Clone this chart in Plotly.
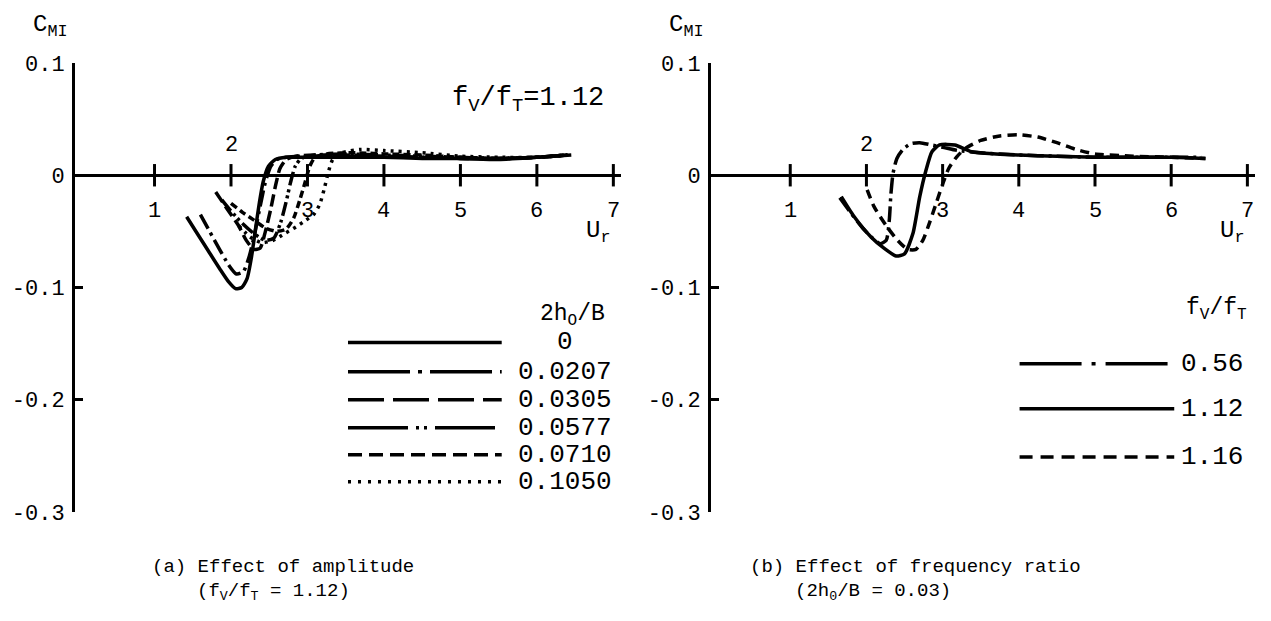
import plotly.graph_objects as go

# ---- data ----
# (a) effect of amplitude, fV/fT = 1.12
amp_labels = ["0", "0.0207", "0.0305", "0.0577", "0.0710", "0.1050"]

ur_a0 = [1.42, 1.55, 1.70, 1.85, 1.97, 2.06, 2.14, 2.21, 2.27, 2.32, 2.37, 2.42, 2.49, 2.58, 2.72, 3.0, 3.5, 4.0, 4.5, 5.0, 5.5, 6.0, 6.45]
cmi_a0 = [-0.037, -0.051, -0.067, -0.083, -0.095, -0.101, -0.100, -0.092, -0.072, -0.048, -0.025, -0.006, 0.008, 0.014, 0.016, 0.016, 0.016, 0.016, 0.015, 0.015, 0.014, 0.016, 0.018]

ur_a1 = [1.60, 1.72, 1.85, 1.97, 2.07, 2.16, 2.24, 2.31, 2.38, 2.45, 2.52, 2.60, 2.72, 2.9, 3.2, 3.6, 4.0, 4.5, 5.0, 5.5, 6.0, 6.4]
cmi_a1 = [-0.035, -0.050, -0.066, -0.080, -0.088, -0.086, -0.072, -0.052, -0.028, -0.006, 0.008, 0.014, 0.016, 0.017, 0.017, 0.017, 0.016, 0.016, 0.015, 0.015, 0.016, 0.018]

ur_a2 = [1.80, 1.95, 2.10, 2.20, 2.30, 2.38, 2.45, 2.52, 2.58, 2.64, 2.72, 2.85, 3.1, 3.5, 4.0, 4.5, 5.0, 5.5, 6.0, 6.4]
cmi_a2 = [-0.015, -0.030, -0.045, -0.058, -0.066, -0.065, -0.050, -0.030, -0.010, 0.006, 0.014, 0.017, 0.018, 0.018, 0.017, 0.016, 0.015, 0.015, 0.016, 0.018]

ur_a3 = [1.88, 2.00, 2.15, 2.30, 2.45, 2.56, 2.65, 2.72, 2.78, 2.84, 2.92, 3.1, 3.5, 4.0, 4.5, 5.0, 5.5, 6.0, 6.4]
cmi_a3 = [-0.022, -0.032, -0.043, -0.052, -0.058, -0.056, -0.042, -0.024, -0.006, 0.008, 0.015, 0.018, 0.019, 0.018, 0.017, 0.016, 0.015, 0.016, 0.018]

ur_a4 = [2.00, 2.15, 2.30, 2.45, 2.60, 2.72, 2.82, 2.90, 2.97, 3.03, 3.10, 3.25, 3.6, 4.0, 4.5, 5.0, 5.5, 6.0, 6.4]
cmi_a4 = [-0.025, -0.033, -0.040, -0.047, -0.050, -0.048, -0.038, -0.022, -0.006, 0.008, 0.016, 0.019, 0.020, 0.019, 0.018, 0.016, 0.015, 0.016, 0.018]

ur_a5 = [2.10, 2.25, 2.40, 2.55, 2.70, 2.85, 2.98, 3.08, 3.16, 3.22, 3.27, 3.33, 3.45, 3.7, 4.0, 4.5, 5.0, 5.5, 6.0, 6.4]
cmi_a5 = [-0.045, -0.055, -0.060, -0.058, -0.052, -0.046, -0.040, -0.035, -0.026, -0.012, 0.002, 0.014, 0.020, 0.023, 0.022, 0.020, 0.017, 0.016, 0.016, 0.018]

# (b) effect of frequency ratio, 2h0/B = 0.03
freq_labels = ["0.56", "1.12", "1.16"]

ur_b0 = [1.65, 1.80, 1.95, 2.08, 2.18, 2.26, 2.30, 2.32, 2.35, 2.40, 2.48, 2.58, 2.70, 2.85, 3.0, 3.2, 3.5, 4.0, 4.5, 5.0, 5.5, 6.0, 6.4]
cmi_b0 = [-0.020, -0.034, -0.047, -0.056, -0.061, -0.058, -0.040, -0.018, 0.002, 0.015, 0.023, 0.028, 0.029, 0.027, 0.025, 0.022, 0.020, 0.018, 0.017, 0.016, 0.016, 0.016, 0.016]

ur_b1 = [1.67, 1.84, 2.06, 2.23, 2.39, 2.50, 2.61, 2.70, 2.78, 2.86, 2.96, 3.16, 3.38, 3.7, 4.0, 4.5, 5.0, 5.5, 6.0, 6.45]
cmi_b1 = [-0.019, -0.037, -0.055, -0.065, -0.072, -0.070, -0.052, -0.019, 0.004, 0.021, 0.027, 0.027, 0.021, 0.019, 0.018, 0.017, 0.016, 0.016, 0.016, 0.015]

ur_b2 = [2.01, 2.10, 2.26, 2.41, 2.54, 2.65, 2.74, 2.83, 2.92, 3.0, 3.08, 3.18, 3.3, 3.5, 3.75, 4.0, 4.25, 4.5, 4.75, 5.0, 5.5, 6.0, 6.45]
cmi_b2 = [-0.013, -0.028, -0.045, -0.058, -0.066, -0.066, -0.058, -0.042, -0.024, -0.008, 0.006, 0.016, 0.024, 0.031, 0.035, 0.036, 0.034, 0.029, 0.023, 0.019, 0.017, 0.016, 0.015]

ur_ticks = [1, 2, 3, 4, 5, 6, 7]
cmi_ticks = [-0.3, -0.2, -0.1, 0, 0.1]
cmi_ticktext = ["-0.3", "-0.2", "-0.1", "0", "0.1"]

FONT = "Liberation Mono"
INK = "black"

# page body has an 8px margin, so the figure is drawn 8px smaller and everything shifted
OFF = 8
W, H = 1271 - OFF, 621 - OFF


def px(x):
    return (x - OFF) / W


def py(y):
    return 1 - (y - OFF) / H


# line styles: (curve dash, legend sample dash)
amp_styles = [
    ("solid", "solid"),
    ("16px,5px,3px,5px", "62px,8px,4px,8px"),
    ("12px,5px", "36px,9px"),
    ("14px,4px,3px,3px,3px,4px", "60px,8px,3px,5px,3px,8px"),
    ("7px,4px", "14px,7px"),
    ("3px,5px", "3px,7px"),
]
freq_styles = [
    ("16px,5px,3px,5px", "62px,10px,4px,10px"),
    ("solid", "solid"),
    ("9px,6px", "13px,8px"),
]

amp_series = [(ur_a0, cmi_a0), (ur_a1, cmi_a1), (ur_a2, cmi_a2),
              (ur_a3, cmi_a3), (ur_a4, cmi_a4), (ur_a5, cmi_a5)]
freq_series = [(ur_b0, cmi_b0), (ur_b1, cmi_b1), (ur_b2, cmi_b2)]

fig = go.Figure()

for (xs, ys), (dash, _) in zip(amp_series, amp_styles):
    fig.add_trace(go.Scatter(x=xs, y=ys, mode="lines", xaxis="x", yaxis="y",
                             line=dict(color=INK, width=3.5, dash=dash, shape="spline", smoothing=0.6)))
for (xs, ys), (dash, _) in zip(freq_series, freq_styles):
    fig.add_trace(go.Scatter(x=xs, y=ys, mode="lines", xaxis="x2", yaxis="y2",
                             line=dict(color=INK, width=3.5, dash=dash, shape="spline", smoothing=0.6)))

# x axis tick marks crossing the zero line
for xa, ya in [("x", "y"), ("x2", "y2")]:
    fig.add_trace(go.Scatter(x=ur_ticks, y=[0] * len(ur_ticks), mode="markers", xaxis=xa, yaxis=ya,
                             marker=dict(symbol="line-ns", size=16, line=dict(width=3, color=INK))))

annotations = []
shapes = []


def ann(text, x, y, xref, yref, size=22, **kw):
    annotations.append(dict(text=text, x=x, y=y, xref=xref, yref=yref, showarrow=False,
                            font=dict(family=FONT, size=size, color=INK), **kw))


for xa, ya in [("x", "y"), ("x2", "y2")]:
    for t in ur_ticks:
        if t == 2:
            ann(str(t), t, 0, xa, ya, yshift=30)
        else:
            ann(str(t), t, 0, xa, ya, yshift=-36)
    ann("U<sub>r</sub>", 6.8, -0.051, xa, ya, size=24)
    ann("C<sub>MI</sub>", -0.08, 1.12, xa + " domain", ya + " domain", size=24, xanchor="left")

ann("f<sub>V</sub>/f<sub>T</sub>=1.12", 6.9, 0.067, "x", "y", size=27, xanchor="right")
ann("2h<sub>O</sub>/B\u22510.03", 7.12, 0.067, "x2", "y2", size=27, xanchor="right")

# legend (a)
ann("2h<sub>O</sub>/B", 6.47, -0.125, "x", "y", size=23)
leg_y_a = [-0.149, -0.175, -0.200, -0.225, -0.249, -0.273]
for lab, yy, (_, ldash) in zip(amp_labels, leg_y_a, amp_styles):
    shapes.append(dict(type="line", xref="x", yref="y", x0=3.53, x1=5.54, y0=yy, y1=yy,
                       line=dict(color=INK, width=3.5, dash=ldash)))
    ann(lab, 6.37, yy, "x", "y", size=26)

# legend (b)
ann("f<sub>V</sub>/f<sub>T</sub>", 6.6, -0.12, "x2", "y2", size=23)
leg_y_b = [-0.168, -0.208, -0.251]
for lab, yy, (_, ldash) in zip(freq_labels, leg_y_b, freq_styles):
    shapes.append(dict(type="line", xref="x2", yref="y2", x0=4.01, x1=6.04, y0=yy, y1=yy,
                       line=dict(color=INK, width=3.5, dash=ldash)))
    ann(lab, 6.1, yy, "x2", "y2", size=26, xanchor="left")

# captions
ann("(a) Effect of amplitude", px(150), py(567), "paper", "paper", size=19, xanchor="left", yanchor="middle")
ann("(f<sub>V</sub>/f<sub>T</sub> = 1.12)", px(195), py(592), "paper", "paper", size=19, xanchor="left", yanchor="middle")
ann("(b) Effect of frequency ratio", px(748), py(567), "paper", "paper", size=19, xanchor="left", yanchor="middle")
ann("(2h<sub>0</sub>/B = 0.03)", px(793), py(592), "paper", "paper", size=19, xanchor="left", yanchor="middle")

xcommon = dict(range=[-0.04, 7.1], showline=False, showgrid=False, zeroline=False,
               showticklabels=False, ticks="", fixedrange=True)
ycommon = dict(range=[-0.3, 0.1], showline=True, linewidth=3, linecolor=INK, mirror=False,
               ticks="inside", ticklen=8, tickwidth=3, tickcolor=INK,
               tickvals=cmi_ticks, ticktext=cmi_ticktext, ticklabelstandoff=3,
               tickfont=dict(family=FONT, size=22, color=INK),
               showgrid=False, zeroline=True, zerolinewidth=3, zerolinecolor=INK,
               automargin=False, fixedrange=True)

ydom = [py(512), py(63)]
fig.update_layout(
    width=W, height=H,
    margin=dict(l=0, r=0, t=0, b=0),
    paper_bgcolor="white", plot_bgcolor="white",
    showlegend=False,
    xaxis=dict(domain=[px(75), px(621)], anchor="y", **xcommon),
    yaxis=dict(domain=ydom, anchor="x", **ycommon),
    xaxis2=dict(domain=[px(711), px(1255)], anchor="y2", **xcommon),
    yaxis2=dict(domain=ydom, anchor="x2", **ycommon),
    annotations=annotations,
    shapes=shapes,
)

fig.write_html("out.html")
